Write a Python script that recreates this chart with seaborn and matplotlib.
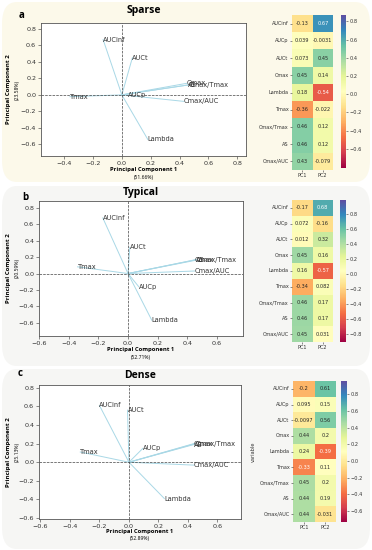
import matplotlib
matplotlib.use("Agg")
import matplotlib.pyplot as plt
from matplotlib.patches import FancyBboxPatch
import seaborn as sns
import pandas as pd

# ---------------------------------------------------------
# PCA loadings for the three sampling designs
# ---------------------------------------------------------
variables = ["AUCinf", "AUCp", "AUCt", "Cmax", "Lambda", "Tmax",
             "Cmax/Tmax", "AS", "Cmax/AUC"]

sparse_pc1 = [-0.13, 0.039, 0.073, 0.45, 0.18, -0.36, 0.46, 0.46, 0.43]
sparse_pc2 = [0.67, -0.0031, 0.45, 0.14, -0.54, -0.022, 0.12, 0.12, -0.079]

typical_pc1 = [-0.17, 0.072, 0.012, 0.45, 0.16, -0.34, 0.46, 0.46, 0.45]
typical_pc2 = [0.68, -0.16, 0.32, 0.16, -0.57, 0.082, 0.17, 0.17, 0.031]

dense_pc1 = [-0.2, 0.095, -0.0097, 0.44, 0.24, -0.33, 0.45, 0.44, 0.44]
dense_pc2 = [0.61, 0.15, 0.56, 0.2, -0.39, 0.11, 0.2, 0.19, -0.031]

titles = ["Sparse", "Typical", "Dense"]
letters = ["a", "b", "c"]
pc1_pct = ["(51.66%)", "(52.71%)", "(52.89%)"]
pc2_pct = ["(23.58%)", "(20.59%)", "(25.13%)"]

W, H = 372, 550


def fx(px):
    return px / W


def fy(py):
    return 1 - py / H


def box(l, t, r, b):
    return [fx(l), fy(b), fx(r) - fx(l), fy(t) - fy(b)]


fig = plt.figure(figsize=(3.72, 5.5), dpi=100)
fig.patch.set_facecolor("white")

# rounded panel backgrounds
for (t, b, col) in [(2, 182, "#fcf9ea"), (186, 366, "#f6f6f4"), (369, 549, "#f6f6f4")]:
    fig.patches.append(FancyBboxPatch((fx(2), fy(b)), fx(368), fy(t) - fy(b),
                                      boxstyle="round,pad=0,rounding_size=0.04",
                                      transform=fig.transFigure, facecolor=col,
                                      edgecolor="none", zorder=-10))

# layout (pixels)
bi_boxes = [(41, 23, 246, 156), (39, 201, 243, 336), (39, 385, 241, 519)]
hm_boxes = [(292, 15, 333, 170), (292, 200, 333, 342), (293, 381, 336, 522)]
cb_boxes = [(341, 15, 346, 168), (340, 200, 346, 342), (341, 381, 347, 522)]
xlims = [(-0.56, 0.86), (-0.60, 0.775), (-0.61, 0.76)]
ylims = [(-0.74, 0.87), (-0.763, 0.886), (-0.61, 0.83)]
vlims = [(-0.81, 0.87), (-0.91, 0.99), (-0.73, 0.96)]
title_y = [10, 193, 375]
letter_pos = [(22, 15), (25, 197), (20, 373)]
xlab_y = [(170, 177), (349, 357), (532, 538.5)]
cb_ticks = [[0.8, 0.6, 0.4, 0.2, 0.0, -0.2, -0.4, -0.6],
            [0.8, 0.6, 0.4, 0.2, 0.0, -0.2, -0.4, -0.6, -0.8],
            [0.8, 0.6, 0.4, 0.2, 0.0, -0.2, -0.4, -0.6]]

all_pc1 = [sparse_pc1, typical_pc1, dense_pc1]
all_pc2 = [sparse_pc2, typical_pc2, dense_pc2]

for i in range(3):
    pc1, pc2 = all_pc1[i], all_pc2[i]
    load = pd.DataFrame({"variable": variables, "PC1": pc1, "PC2": pc2})

    # --- biplot of loading vectors ---
    ax = fig.add_axes(box(*bi_boxes[i]))
    ax.set_facecolor("white")
    seg = pd.concat([
        pd.DataFrame({"variable": variables, "x": 0.0, "y": 0.0, "o": 0}),
        pd.DataFrame({"variable": variables, "x": pc1, "y": pc2, "o": 1}),
    ]).sort_values(["variable", "o"])
    sns.lineplot(data=seg, x="x", y="y", units="variable", estimator=None,
                 sort=False, color="#a9d8e6", linewidth=0.7, ax=ax)
    for v, a, b in zip(variables, pc1, pc2):
        ax.text(a, b, v, fontsize=4.8, color="#333333", ha="left", va="center")
    ax.axhline(0, color="#444444", ls="--", lw=0.5)
    ax.axvline(0, color="#444444", ls="--", lw=0.5)
    ax.set_xticks([-0.6, -0.4, -0.2, 0.0, 0.2, 0.4, 0.6, 0.8])
    ax.set_xlim(*xlims[i])
    ax.set_yticks([-0.6, -0.4, -0.2, 0.0, 0.2, 0.4, 0.6, 0.8])
    ax.set_ylim(*ylims[i])
    ax.tick_params(labelsize=4.6, length=2, width=0.4, pad=1.5, colors="#333333")
    ax.set_xlabel("")
    ax.set_ylabel("")
    for s in ax.spines.values():
        s.set_linewidth(0.6)
        s.set_color("#555555")

    l, t, r, b = bi_boxes[i]
    cx = (l + r) / 2
    cy = (t + b) / 2
    fig.text(fx(cx), fy(title_y[i]), titles[i], fontsize=7.5, fontweight="bold",
             family="Open Sans", ha="center", va="center")
    fig.text(fx(letter_pos[i][0]), fy(letter_pos[i][1]), letters[i], fontsize=7,
             fontweight="bold", family="Open Sans", ha="center", va="center")
    fig.text(fx(cx), fy(xlab_y[i][0]), "Principal Component 1", fontsize=4.2,
             fontweight="bold", family="Open Sans", ha="center", va="center")
    fig.text(fx(cx), fy(xlab_y[i][1]), pc1_pct[i], fontsize=3.6,
             family="Open Sans", ha="center", va="center")
    fig.text(fx(9), fy(cy), "Principal Component 2", fontsize=4.4, rotation=90,
             fontweight="bold", family="Open Sans", ha="center", va="center")
    fig.text(fx(17), fy(cy), pc2_pct[i], fontsize=3.6, rotation=90,
             family="Open Sans", ha="center", va="center")

    # --- heatmap of loadings ---
    hax = fig.add_axes(box(*hm_boxes[i]))
    cax = fig.add_axes(box(*cb_boxes[i]))
    mat = load.set_index("variable")[["PC1", "PC2"]]
    sns.heatmap(mat, annot=True, cmap="Spectral", vmin=vlims[i][0], vmax=vlims[i][1],
                annot_kws={"fontsize": 3.6}, xticklabels=True, yticklabels=True,
                ax=hax, cbar_ax=cax)
    hax.tick_params(labelsize=3.6, length=1.5, width=0.4, pad=1, colors="#333333")
    hax.set_yticklabels(hax.get_yticklabels(), rotation=0)
    hax.set_xticklabels(hax.get_xticklabels(), rotation=0)
    hax.set_xlabel("")
    if i == 2:
        hax.set_ylabel("variable", fontsize=3.6, labelpad=3, color="#333333")
    else:
        hax.set_ylabel("")
    cax.set_yticks(cb_ticks[i])
    cax.tick_params(labelsize=3.6, length=1.5, width=0.4, pad=1, colors="#333333")

fig.savefig("out.png", dpi=100)
